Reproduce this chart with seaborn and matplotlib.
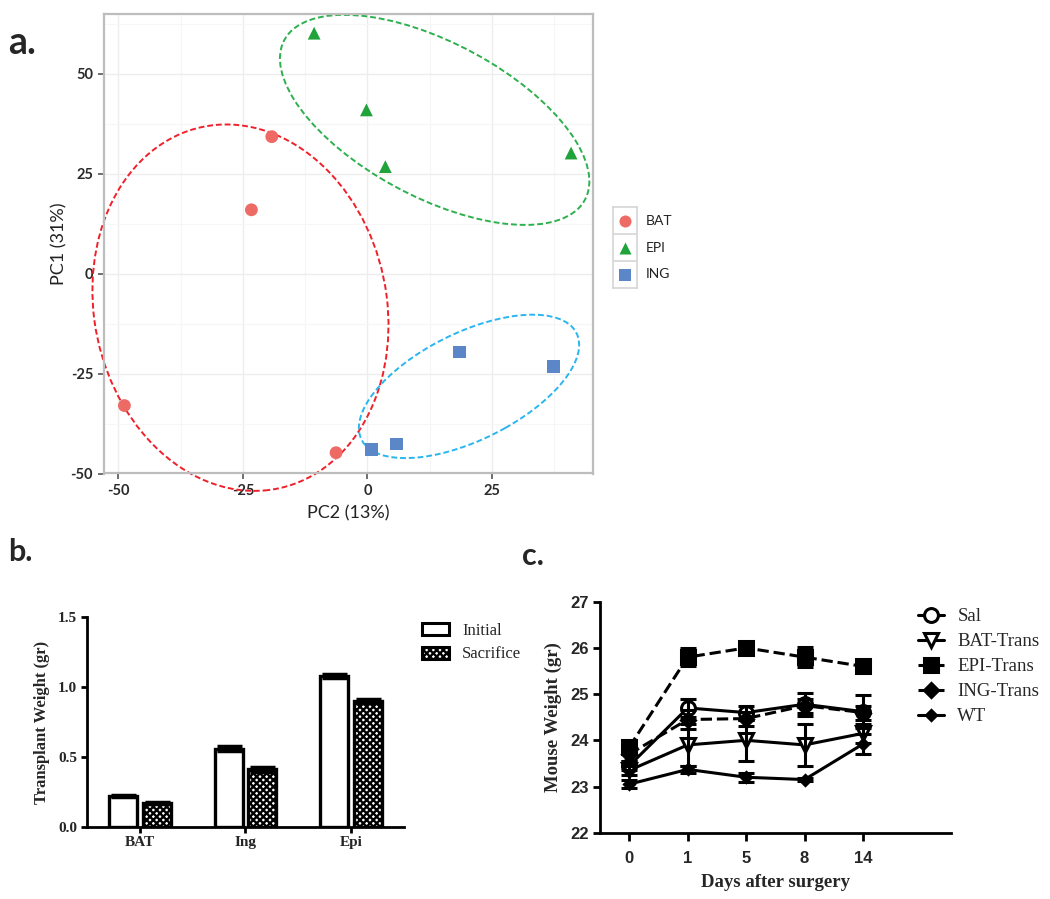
import matplotlib
matplotlib.use("Agg")
import matplotlib.pyplot as plt
from matplotlib.patches import Ellipse, Patch
import seaborn as sns
import pandas as pd

# ---- panel a: PCA scores ----
pc_group = ["BAT"] * 4 + ["EPI"] * 4 + ["ING"] * 4
pc2 = [-19.2, -23.3, -48.8, -6.3, -10.7, -0.2, 3.6, 40.9, 18.5, 37.3, 0.8, 5.8]
pc1 = [34.3, 16.0, -33.0, -44.8, 60.2, 41.0, 26.8, 30.2, -19.6, -23.2, -44.0, -42.6]

ell_groups = ["BAT", "EPI", "ING"]
ell_cx = [-25.5, 13.5, 20.4]
ell_cy = [-8.5, 38.5, -28.2]
ell_w = [59.0, 72.8, 51.0]
ell_h = [92.0, 36.4, 25.4]
ell_angle = [6, -37, 35]

# ---- panel b: transplant weight ----
tissue = ["BAT", "Ing", "Epi"]
initial = [0.22, 0.56, 1.08]
sacrifice = [0.17, 0.41, 0.90]
initial_err = [0.01, 0.015, 0.015]
sacrifice_err = [0.01, 0.015, 0.015]

# ---- panel c: mouse weight ----
days = ["0", "1", "5", "8", "14"]
sal = [23.45, 24.70, 24.60, 24.78, 24.62]
sal_err = [0.10, 0.20, 0.15, 0.25, 0.35]
bat_trans = [23.35, 23.90, 24.00, 23.90, 24.15]
bat_err = [0.10, 0.45, 0.45, 0.45, 0.20]
epi_trans = [23.85, 25.80, 26.00, 25.80, 25.60]
epi_err = [0.10, 0.20, 0.08, 0.22, 0.12]
ing_trans = [23.70, 24.45, 24.47, 24.75, 24.60]
ing_err = [0.15, 0.20, 0.15, 0.15, 0.15]
wt = [23.05, 23.37, 23.20, 23.15, 23.92]
wt_err = [0.08, 0.08, 0.10, 0.03, 0.22]

sns.set_theme(style="white")
plt.rcParams["font.family"] = ["Lato", "DejaVu Sans"]
plt.rcParams["axes.unicode_minus"] = False
plt.rcParams["hatch.linewidth"] = 1.7

fig = plt.figure(figsize=(10.5, 8.99), dpi=100)
W, H = 1050, 899


def box(x0, y0, x1, y1):
    # pixel box -> figure fraction rect
    return [x0 / W, 1 - y1 / H, (x1 - x0) / W, (y1 - y0) / H]


serif = "Liberation Serif"

# ================= panel a =================
point_colors = {"BAT": "#EE6A64", "EPI": "#1FA33A", "ING": "#5B87C9"}
ell_colors = {"BAT": "#F0202A", "EPI": "#2DB04E", "ING": "#29B6F0"}
markers = {"BAT": "o", "EPI": "^", "ING": "s"}

ax_a = fig.add_axes(box(103.5, 14, 593, 473.5))
sns.scatterplot(x=pc2, y=pc1, hue=pc_group, style=pc_group, markers=markers,
                palette=point_colors, s=85, linewidth=0, ax=ax_a, legend=False, zorder=3)
for g, cx, cy, w, h, a in zip(ell_groups, ell_cx, ell_cy, ell_w, ell_h, ell_angle):
    e = Ellipse((cx, cy), w, h, angle=a, fill=False, edgecolor=ell_colors[g],
                linestyle=(0, (3, 1.5)), linewidth=1.4, clip_on=False, zorder=2)
    ax_a.add_patch(e)

ax_a.set_xlim(-53, 45.3)
ax_a.set_ylim(-50, 65)
ax_a.set_xticks([-50, -25, 0, 25])
ax_a.set_yticks([-50, -25, 0, 25, 50])
ax_a.set_xticks([-37.5, -12.5, 12.5, 37.5], minor=True)
ax_a.set_yticks([-37.5, -12.5, 12.5, 37.5, 62.5], minor=True)
ax_a.grid(True, which="major", color="#EDEDED", linewidth=1.0)
ax_a.grid(True, which="minor", color="#F6F6F6", linewidth=0.8)
ax_a.set_axisbelow(True)
for s in ax_a.spines.values():
    s.set_color("#BDBDBD")
    s.set_linewidth(1.6)
ax_a.tick_params(axis="both", which="major", length=4, width=1.2, color="#555555",
                 labelsize=10.5, labelcolor="#2A2A2A", bottom=True, left=True)
ax_a.tick_params(which="minor", length=0)
for lab in ax_a.get_xticklabels() + ax_a.get_yticklabels():
    lab.set_fontweight("bold")
ax_a.set_xlabel("PC2 (13%)", fontsize=13, color="#222222", labelpad=5)
ax_a.set_ylabel("PC1 (31%)", fontsize=13, color="#222222", labelpad=2)

# legend keys in ggplot style
ax_leg = fig.add_axes(box(613, 207, 637, 288))
ax_leg.set_xlim(0, 1)
ax_leg.set_ylim(3, 0)
for i, g in enumerate(ell_groups):
    ax_leg.scatter(0.5, i + 0.5, marker=markers[g], color=point_colors[g], s=75, linewidth=0)
    ax_leg.text(1.35, i + 0.5, g, fontsize=10, color="#222222", va="center",
                ha="left", clip_on=False)
    if i > 0:
        ax_leg.axhline(i, color="#D5D5D5", linewidth=1.2)
ax_leg.set_xticks([])
ax_leg.set_yticks([])
for s in ax_leg.spines.values():
    s.set_color("#D5D5D5")
    s.set_linewidth(1.2)

# ================= panel b =================
ax_b = fig.add_axes(box(87, 617.3, 404, 826.7))
df_b = pd.DataFrame({
    "tissue": tissue * 2,
    "time": ["Initial"] * 3 + ["Sacrifice"] * 3,
    "weight": initial + sacrifice,
})
sns.barplot(data=df_b, x="tissue", y="weight", hue="time", palette=["white", "white"],
            edgecolor="black", linewidth=2.4, width=0.64, gap=0.17, errorbar=None,
            ax=ax_b, legend=False)
for patch in ax_b.containers[1]:
    patch.set_hatch("xxxxx")
for container, errs in zip(ax_b.containers, [initial_err, sacrifice_err]):
    for patch, e in zip(container, errs):
        xc = patch.get_x() + patch.get_width() / 2
        ax_b.errorbar(xc, patch.get_height(), yerr=e, fmt="none", ecolor="black",
                      elinewidth=2, capsize=9, capthick=2.5, zorder=4)
ax_b.set_xlim(-0.5, 2.5)
ax_b.set_ylim(0, 1.5)
ax_b.set_yticks([0, 0.5, 1.0, 1.5])
ax_b.set_yticklabels(["0.0", "0.5", "1.0", "1.5"])
sns.despine(ax=ax_b)
for s in ["left", "bottom"]:
    ax_b.spines[s].set_linewidth(2)
    ax_b.spines[s].set_color("black")
ax_b.tick_params(axis="both", length=4, width=2, color="black", bottom=True, left=True,
                 pad=3)
for lab in ax_b.get_xticklabels() + ax_b.get_yticklabels():
    lab.set_fontfamily(serif)
    lab.set_fontweight("bold")
    lab.set_fontsize(11)
ax_b.set_xlabel("")
ax_b.set_ylabel("Transplant Weight (gr)", fontfamily=serif, fontweight="bold",
                fontsize=12, labelpad=6)

handles_b = [
    Patch(facecolor="white", edgecolor="black", linewidth=2.2, label="Initial"),
    Patch(facecolor="white", edgecolor="black", linewidth=2.2, hatch="xxxxx", label="Sacrifice"),
]
fig.legend(handles=handles_b, loc="upper left", bbox_to_anchor=(422 / W, 1 - 623 / H),
           frameon=False, prop={"family": serif, "size": 12}, handlelength=1.6,
           handleheight=0.7, handletextpad=0.8, labelspacing=0.45, borderpad=0,
           borderaxespad=0)

# ================= panel c =================
ax_c = fig.add_axes(box(600, 601.7, 950.7, 832.7))
pos = list(range(len(days)))
series = [
    ("Sal", sal, sal_err, "-", "o", 10, "white"),
    ("BAT-Trans", bat_trans, bat_err, "-", "v", 10, "white"),
    ("EPI-Trans", epi_trans, epi_err, "--", "s", 10, "black"),
    ("ING-Trans", ing_trans, ing_err, "--", "D", 7.5, "black"),
    ("WT", wt, wt_err, "-", "D", 5.5, "black"),
]
for name, vals, errs, ls, mk, ms, mfc in series:
    sns.lineplot(x=pos, y=vals, ax=ax_c, color="black", linewidth=2.2, linestyle=ls,
                 marker=mk, markersize=ms, markerfacecolor=mfc, markeredgecolor="black",
                 markeredgewidth=2.2, label=name)
    ax_c.errorbar(pos, vals, yerr=errs, fmt="none", ecolor="black", elinewidth=2.2,
                  capsize=6, capthick=2.2, zorder=4)
handles_c, labels_c = ax_c.get_legend_handles_labels()
if ax_c.get_legend() is not None:
    ax_c.get_legend().remove()
fig.legend(handles_c, labels_c, loc="upper left", bbox_to_anchor=(918 / W, 1 - 608 / H),
           frameon=False, prop={"family": serif, "size": 13.5}, handlelength=1.4,
           handletextpad=0.7, labelspacing=0.42, borderpad=0, borderaxespad=0)

ax_c.set_xlim(-0.5, 5.5)
ax_c.set_ylim(22, 27)
ax_c.set_xticks(pos)
ax_c.set_xticklabels(days)
ax_c.set_yticks([22, 23, 24, 25, 26, 27])
sns.despine(ax=ax_c)
for s in ["left", "bottom"]:
    ax_c.spines[s].set_linewidth(2)
    ax_c.spines[s].set_color("black")
ax_c.tick_params(axis="x", length=6, width=2, color="black", bottom=True, labelsize=12,
                 pad=7)
ax_c.tick_params(axis="y", length=5, width=2, color="black", left=True, labelsize=12,
                 pad=3)
for lab in ax_c.get_xticklabels() + ax_c.get_yticklabels():
    lab.set_fontfamily("Liberation Sans")
    lab.set_fontweight("bold")
ax_c.set_xlabel("Days after surgery", fontfamily=serif, fontweight="bold", fontsize=13.5,
                labelpad=6)
ax_c.set_ylabel("Mouse Weight (gr)", fontfamily=serif, fontweight="bold", fontsize=13.5,
                labelpad=6)

# panel letters
fig.text(8 / W, 1 - 54 / H, "a.", fontsize=27, fontweight="bold", va="baseline")
fig.text(8 / W, 1 - 561 / H, "b.", fontsize=22, fontweight="bold", va="baseline")
fig.text(522 / W, 1 - 565 / H, "c.", fontsize=22, fontweight="bold", va="baseline")

fig.savefig("out.png", dpi=100)
